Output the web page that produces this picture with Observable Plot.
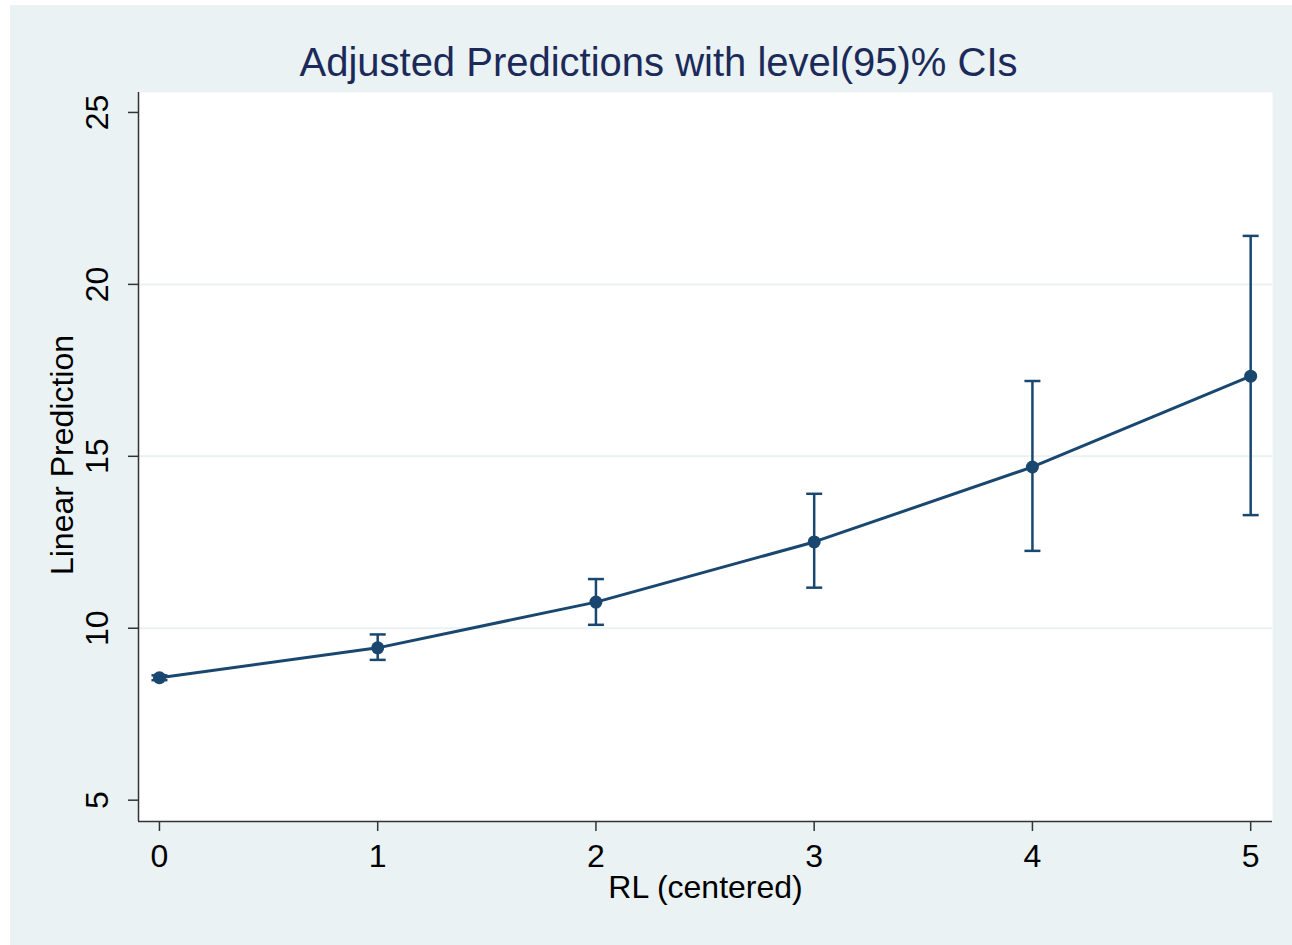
<!DOCTYPE html>
<html>
<head>
<meta charset="utf-8">
<script src="https://cdn.jsdelivr.net/npm/d3@7"></script>
<script src="https://cdn.jsdelivr.net/npm/@observablehq/plot@0.6"></script>
<style>
  html, body { margin: 0; padding: 0; background: #ffffff; }
  #chart { position: absolute; left: 10px; top: 5px; }
  #chart svg { display: block; }
</style>
</head>
<body>
<div id="chart"></div>
<script>
// Data
const rl = [0, 1, 2, 3, 4, 5];
const prediction = [8.56, 9.43, 10.76, 12.51, 14.69, 17.33];
const ciLow = [8.49, 9.08, 10.10, 11.18, 12.25, 13.29];
const ciHigh = [8.63, 9.82, 11.43, 13.91, 17.19, 21.41];
const xTicks = [0, 1, 2, 3, 4, 5];
const yTicks = [5, 10, 15, 20, 25];
const gridTicks = [10, 15, 20];
const xDomain = [-0.096, 5.10];
const yDomain = [4.38, 25.58];
const titleText = "Adjusted Predictions with level(95)% CIs";
const xLabel = "RL (centered)";
const yLabel = "Linear Prediction";

const data = rl.map((x, i) => ({x, y: prediction[i], lo: ciLow[i], hi: ciHigh[i]}));

const navy = "#1a476f";
const font = "'Liberation Sans', Arial, sans-serif";

// horizontal cap symbol for CI bars
const capSymbol = {
  draw(ctx, size) {
    const w = Math.sqrt(size / Math.PI);
    ctx.moveTo(-w, 0);
    ctx.lineTo(w, 0);
  }
};

const chart = Plot.plot({
  width: 1282,
  height: 940,
  marginLeft: 128,
  marginTop: 87,
  marginRight: 20,
  marginBottom: 124,
  style: {background: "#eaf2f3", fontFamily: font, color: "#000"},
  x: {domain: xDomain, axis: null},
  y: {domain: yDomain, axis: null},
  marks: [
    Plot.frame({fill: "#ffffff", stroke: "none"}),
    Plot.ruleY(gridTicks, {stroke: "#eaf2f3", strokeWidth: 2}),
    Plot.ruleX([xDomain[0]], {stroke: "#333333", strokeWidth: 1.5}),
    Plot.ruleY([yDomain[0]], {stroke: "#333333", strokeWidth: 1.5}),
    Plot.axisX({ticks: xTicks, tickSize: 10, tickPadding: 13, fontSize: 32, stroke: "#333333", strokeWidth: 1.5, fill: "#000", label: null, tickFormat: d => String(d)}),
    Plot.axisY({ticks: yTicks, tickSize: 10, tickFormat: () => "", label: null, stroke: "#333333", strokeWidth: 1.5}),
    Plot.text(yTicks, {y: d => d, frameAnchor: "left", textAnchor: "middle", dx: -41, rotate: -90, fontSize: 32, lineAnchor: "middle", text: d => String(d), fill: "#000"}),
    Plot.text([yLabel], {frameAnchor: "left", textAnchor: "middle", dx: -76, dy: -2, rotate: -90, fontSize: 32, lineAnchor: "middle", fill: "#000"}),
    Plot.text([xLabel], {frameAnchor: "bottom", dy: 66, fontSize: 32, lineAnchor: "middle", fill: "#000"}),
    Plot.text([titleText], {frameAnchor: "top", dx: -47, dy: -29, fontSize: 40, lineAnchor: "middle", fill: "#1c2a5a"}),
    Plot.ruleX(data, {x: "x", y1: "lo", y2: "hi", stroke: navy, strokeWidth: 2.5}),
    Plot.dot(data, {x: "x", y: "lo", symbol: capSymbol, r: 8, stroke: navy, strokeWidth: 2.5, fill: "none"}),
    Plot.dot(data, {x: "x", y: "hi", symbol: capSymbol, r: 8, stroke: navy, strokeWidth: 2.5, fill: "none"}),
    Plot.line(data, {x: "x", y: "y", stroke: navy, strokeWidth: 3}),
    Plot.dot(data, {x: "x", y: "y", r: 6.5, fill: navy, stroke: "none"})
  ]
});
document.getElementById("chart").appendChild(chart);
</script>
</body>
</html>
